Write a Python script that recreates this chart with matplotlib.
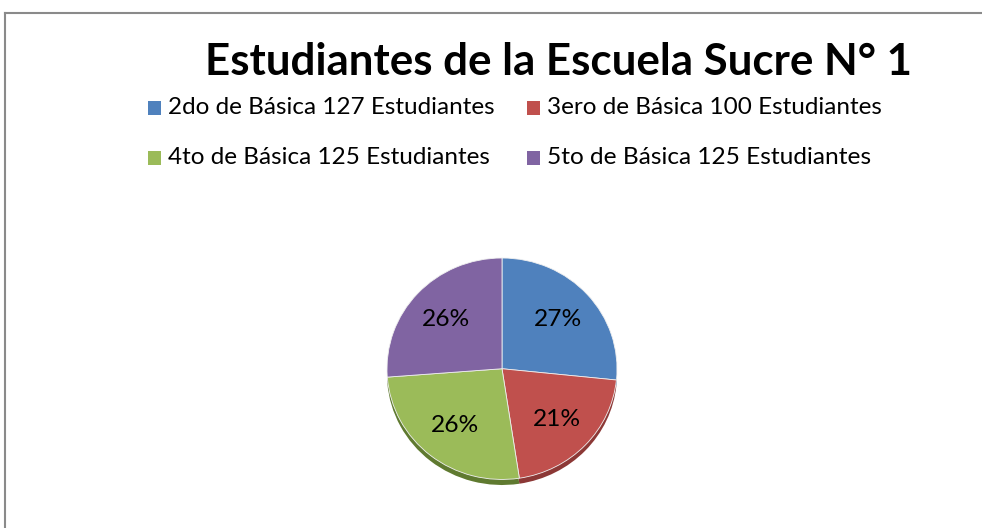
import matplotlib
matplotlib.use("Agg")
import matplotlib.pyplot as plt
from matplotlib.lines import Line2D
from matplotlib.patches import Rectangle

# data
grados = ["2do de Básica", "3ero de Básica", "4to de Básica", "5to de Básica"]
estudiantes = [127, 100, 125, 125]
colores = ["#4F81BD", "#C0504D", "#9BBB59", "#8064A2"]
colores_borde = ["#3A6496", "#8C3836", "#5F7A30", "#5C4878"]
titulo = "Estudiantes de la Escuela Sucre N° 1"

W, H = 982, 528
fig = plt.figure(figsize=(W / 100, H / 100), dpi=100)
plt.rcParams['font.family'] = ['Lato', 'DejaVu Sans']


def fx(px):
    return px / W


def fy(py):
    return (H - py) / H


def fit(t, width_px):
    r = fig.canvas.get_renderer()
    bb = t.get_window_extent(r)
    t.set_fontsize(t.get_fontsize() * width_px / bb.width)


# chart border (top + left visible, rest cut off)
fig.add_artist(Line2D([fx(5), fx(5)], [0, fy(13)], color="#8a8a8a", lw=1.5))
fig.add_artist(Line2D([fx(5), 1.0], [fy(13), fy(13)], color="#8a8a8a", lw=1.5))

# title
t = fig.text(fx(205), fy(75), titulo, fontsize=30, fontweight="bold",
             ha="left", va="baseline", color="black")
fit(t, 707)

# pie
ax = fig.add_axes([fx(387), fy(485), fx(617) - fx(387), (485 - 258) / H])
# darker rim underneath for the 3d look
ax.pie(estudiantes, colors=colores_borde, startangle=90, counterclock=False,
       center=(0, -0.05), wedgeprops=dict(linewidth=0))
wedges, txts, pcts = ax.pie(estudiantes, colors=colores, startangle=90,
                            counterclock=False, autopct="%1.0f%%",
                            pctdistance=0.66,
                            wedgeprops=dict(linewidth=0.6, edgecolor="#f0f0f0"))
ax.set_aspect("auto")
ax.set_xlim(-1, 1)
ax.set_ylim(-1.05, 1)
for p in pcts:
    p.set_color("black")
    p.set_fontsize(15)
fit(pcts[0], 48)
for p in pcts[1:]:
    p.set_fontsize(pcts[0].get_fontsize())

# legend laid out like the original (2 x 2)
leg_pos = [(148, 108), (527, 108), (148, 158), (527, 158)]
leg_w = [327, 336, 322, 324]
for (x, y), g, n, c, w in zip(leg_pos, grados, estudiantes, colores, leg_w):
    fig.add_artist(Rectangle((fx(x), fy(y + 6.5)), fx(13), 13 / H,
                             facecolor=c, edgecolor="none"))
    lt = fig.text(fx(x + 20), fy(y), f"{g} {n} Estudiantes", fontsize=15,
                  ha="left", va="center", color="black")
    fit(lt, w)

fig.savefig("out.png", dpi=100)
